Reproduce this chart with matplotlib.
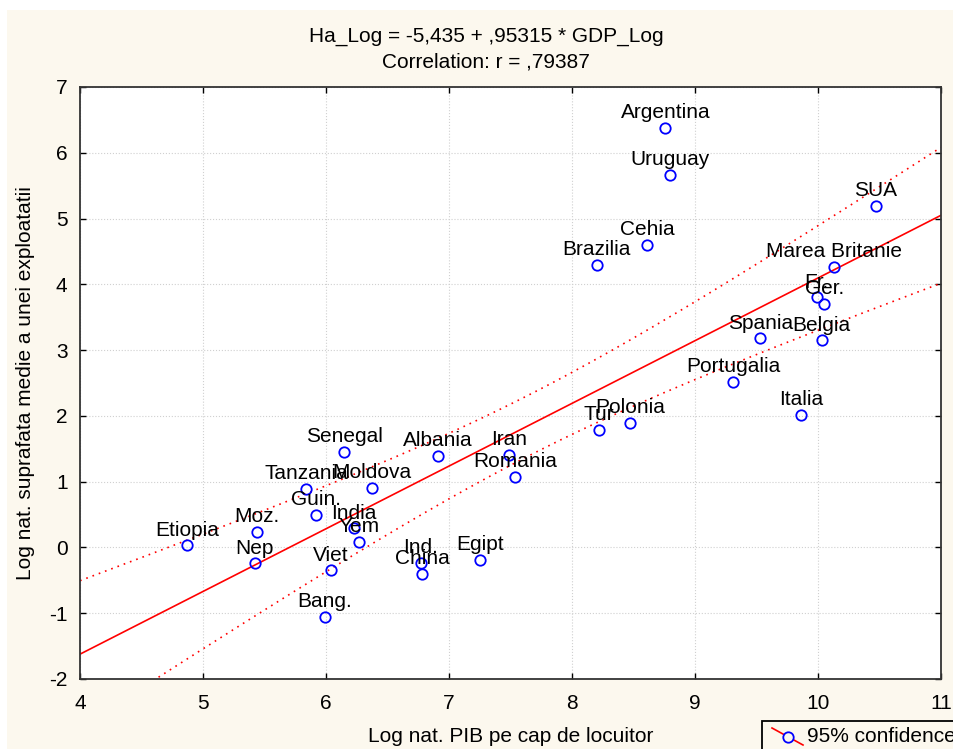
import numpy as np
import matplotlib
matplotlib.use('Agg')
import matplotlib.pyplot as plt
from matplotlib.patches import Rectangle
from matplotlib.lines import Line2D

plt.rcParams['font.family'] = ['Liberation Sans', 'DejaVu Sans']
plt.rcParams['axes.unicode_minus'] = False

# ---- data ----
countries = ['Argentina', 'Uruguay', 'SUA', 'Cehia', 'Brazilia', 'Marea Britanie',
             'Fr.', 'Ger.', 'Spania', 'Belgia', 'Portugalia', 'Italia', 'Polonia', 'Tur',
             'Senegal', 'Albania', 'Iran', 'Romania', 'Tanzania', 'Moldova', 'Guin.',
             'Moz.', 'Etiopia', 'India', 'Yem', 'Nep', 'Viet', 'Ind.', 'China', 'Egipt', 'Bang.']
gdp_log = [8.76, 8.80, 10.47, 8.61, 8.20, 10.13,
           9.99, 10.05, 9.53, 10.03, 9.31, 9.86, 8.47, 8.22,
           6.15, 6.91, 7.49, 7.54, 5.84, 6.37, 5.92,
           5.44, 4.87, 6.23, 6.27, 5.42, 6.04, 6.77, 6.78, 7.25, 5.99]
ha_log = [6.38, 5.66, 5.19, 4.60, 4.30, 4.27,
          3.80, 3.70, 3.18, 3.15, 2.52, 2.02, 1.89, 1.79,
          1.45, 1.39, 1.41, 1.07, 0.89, 0.91, 0.49,
          0.24, 0.03, 0.29, 0.08, -0.24, -0.35, -0.23, -0.40, -0.19, -1.06]

intercept = -5.435
slope = 0.95315
t_crit = 2.045  # t(0.975, n-2)

x = np.array(gdp_log)
y = np.array(ha_log)
n = len(x)

# regression line + 95% confidence band for the mean
xs = np.linspace(4, 11, 200)
fit = intercept + slope * xs
resid = y - (intercept + slope * x)
s = np.sqrt(np.sum(resid ** 2) / (n - 2))
sxx = np.sum((x - x.mean()) ** 2)
half = t_crit * s * np.sqrt(1.0 / n + (xs - x.mean()) ** 2 / sxx)

# ---- figure ----
bg = '#fcf8ee'
fs = 15
fig = plt.figure(figsize=(9.54, 7.49), dpi=100, facecolor='white')
fig.patches.append(Rectangle((7 / 954, 0), 1, 1 - 10 / 749, transform=fig.transFigure,
                             facecolor=bg, edgecolor='none', zorder=-10))
ax = fig.add_axes([80 / 954, 1 - 679 / 749, 861 / 954, 592 / 749])
ax.set_facecolor('white')

ax.plot(xs, fit, color='red', lw=1.2, zorder=2)
ax.plot(xs, fit + half, color='red', lw=1.2, ls=(0, (1, 3)), zorder=2)
ax.plot(xs, fit - half, color='red', lw=1.2, ls=(0, (1, 3)), zorder=2)

ax.plot(x, y, 'o', mfc='none', mec='#0000ff', mew=1.3, ms=7.5, zorder=3)
for name, xi, yi in zip(countries, x, y):
    ax.annotate(name, (xi, yi), xytext=(0, 7), textcoords='offset points',
                ha='center', va='baseline', fontsize=fs, color='black', zorder=4)

ax.set_xlim(4, 11)
ax.set_ylim(-2, 7)
ax.set_xticks(range(4, 12))
ax.set_yticks(range(-2, 8))
ax.grid(True, color='#d0d0d0', ls=':', lw=0.8)
ax.set_axisbelow(True)
ax.tick_params(direction='in', top=True, right=True, length=4, width=1,
               labelsize=fs)
ax.tick_params(axis='x', pad=11)
ax.tick_params(axis='y', pad=9)
for sp in ax.spines.values():
    sp.set_color('#333333')
    sp.set_linewidth(1.3)

ax.set_xlabel('Log nat. PIB pe cap de locuitor', fontsize=fs, labelpad=10)
ax.set_ylabel('Log nat. suprafata medie a unei exploatatii', fontsize=fs, labelpad=10)
fig.text(486 / 954, 1 - 36 / 749, 'Ha_Log = -5,435 + ,95315 * GDP_Log',
         fontsize=15, ha='center', va='center')
fig.text(486 / 954, 1 - 62 / 749, 'Correlation: r = ,79387',
         fontsize=15, ha='center', va='center')

# legend box (partly outside the figure, like the original)
fig.patches.append(Rectangle((762 / 954, -0.01), 0.3, (749 - 721) / 749 + 0.01,
                             transform=fig.transFigure, facecolor=bg,
                             edgecolor='black', lw=1.3, zorder=5))
fig.add_artist(Line2D([772 / 954, 803 / 954], [1 - 728 / 749, 1 - 745 / 749],
                      transform=fig.transFigure, color='red', lw=1.2, zorder=6))
fig.add_artist(Line2D([788 / 954], [1 - 737 / 749], transform=fig.transFigure,
                      marker='o', mfc=bg, mec='#0000ff', mew=1.3, ms=7.5, zorder=7))
fig.text(807 / 954, 1 - 737 / 749, '95% confidence', fontsize=fs,
         va='center', ha='left', zorder=8)

fig.savefig('out.png', dpi=100, facecolor=fig.get_facecolor())
